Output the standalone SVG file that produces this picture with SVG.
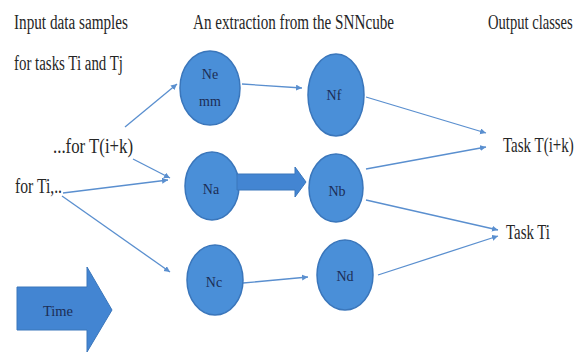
<svg xmlns="http://www.w3.org/2000/svg" width="582" height="356" viewBox="0 0 582 356">
<defs>
<marker id="ah" markerWidth="8" markerHeight="8" refX="6" refY="3" orient="auto" markerUnits="userSpaceOnUse">
<path d="M0,0 L6,3 L0,6 z" fill="#5a8fcf"/>
</marker>
</defs>
<style>
.lbl{font-family:"Liberation Serif","DejaVu Serif","Times New Roman",serif;font-size:20px;fill:#262626}
.nd{fill:#4a8fd8;stroke:#3a76bb;stroke-width:1.5}
.nl{font-family:"Liberation Serif","DejaVu Serif","Times New Roman",serif;font-size:14px;fill:#1c2d55;text-anchor:middle}
.cn{stroke:#5a8fcf;stroke-width:1.3;fill:none;marker-end:url(#ah)}
.big{fill:#4385d2;stroke:#3a76bb;stroke-width:1}
</style>
<rect width="582" height="356" fill="#ffffff"/>

<g id="texts">
<text class="lbl" x="14" y="29" textLength="114" lengthAdjust="spacingAndGlyphs">Input data samples</text>
<text class="lbl" x="14" y="70" textLength="109" lengthAdjust="spacingAndGlyphs">for tasks Ti and Tj</text>
<text class="lbl" x="193" y="29" textLength="201" lengthAdjust="spacingAndGlyphs">An extraction from the SNNcube</text>
<text class="lbl" transform="translate(488,29) scale(0.73,1)">Output classes</text>
<text class="lbl" x="53" y="153" textLength="80" lengthAdjust="spacingAndGlyphs">...for T(i+k)</text>
<text class="lbl" x="15" y="193" textLength="47" lengthAdjust="spacingAndGlyphs">for Ti,..</text>
<text class="lbl" transform="translate(503,152) scale(0.75,1)">Task T(i+k)</text>
<text class="lbl" x="506" y="239" textLength="44" lengthAdjust="spacingAndGlyphs">Task Ti</text>
</g>

<g id="connectors">
<line class="cn" x1="125" y1="127" x2="177" y2="84"/>
<line class="cn" x1="133" y1="159" x2="170" y2="178"/>
<line class="cn" x1="63" y1="193" x2="168" y2="180"/>
<line class="cn" x1="62" y1="196" x2="170" y2="272"/>
<line class="cn" x1="242" y1="84" x2="302" y2="88"/>
<line class="cn" x1="243" y1="283" x2="308" y2="277"/>
<line class="cn" x1="366" y1="97" x2="486" y2="133"/>
<line class="cn" x1="366" y1="169" x2="486" y2="147"/>
<line class="cn" x1="366" y1="200" x2="498" y2="230"/>
<line class="cn" x1="378" y1="275" x2="498" y2="236"/>
</g>

<g id="node-ne">
<ellipse class="nd" cx="210" cy="88" rx="30" ry="37"/>
<text class="nl" x="210" y="79">Ne</text>
<text class="nl" x="210" y="106">mm</text>
</g>
<g id="node-nf">
<ellipse class="nd" cx="336" cy="95" rx="28" ry="41"/>
<text class="nl" x="334" y="100">Nf</text>
</g>
<g id="node-na">
<ellipse class="nd" cx="212" cy="186" rx="27" ry="34"/>
<text class="nl" x="211" y="194">Na</text>
</g>
<g id="node-nb">
<ellipse class="nd" cx="336" cy="188" rx="27" ry="34"/>
<text class="nl" x="337" y="196">Nb</text>
</g>
<g id="node-nc">
<ellipse class="nd" cx="215" cy="280" rx="28" ry="35"/>
<text class="nl" x="214" y="287">Nc</text>
</g>
<g id="node-nd">
<ellipse class="nd" cx="345" cy="275" rx="28" ry="35"/>
<text class="nl" x="345" y="281">Nd</text>
</g>

<g id="na-nb-arrow">
<path class="big" d="M237,174 L295,174 L295,167 L306,182 L295,197 L295,190 L237,190 z"/>
</g>

<g id="time-arrow">
<path class="big" d="M17,287 L87,287 L87,267 L112,310 L87,352 L87,330 L17,330 z"/>
<text class="nl" x="58" y="316" textLength="30" lengthAdjust="spacingAndGlyphs">Time</text>
</g>
</svg>
